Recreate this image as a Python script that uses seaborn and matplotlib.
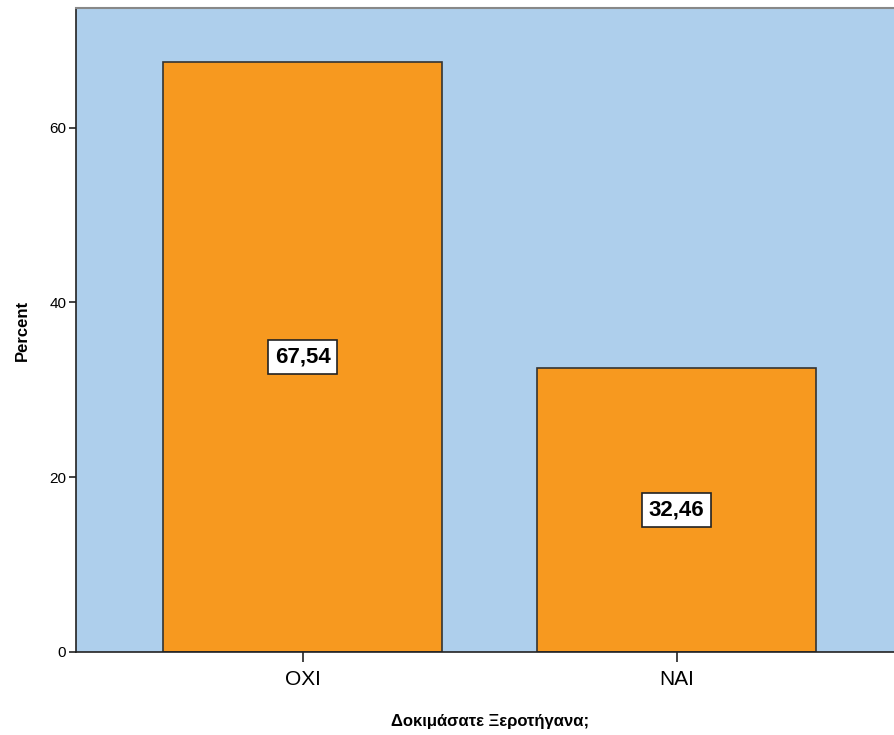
import matplotlib
matplotlib.use("Agg")
import matplotlib.pyplot as plt
import seaborn as sns
import pandas as pd

# Survey answers and their share of respondents (%)
answers = ["OXI", "NAI"]
percent = [67.54, 32.46]
y_ticks = [0, 20, 40, 60]

df = pd.DataFrame({"answer": answers, "percent": percent})

sns.set_style("white")
plt.rcParams["font.family"] = ["Liberation Sans", "DejaVu Sans"]
plt.rcParams["text.color"] = "black"
plt.rcParams["axes.labelcolor"] = "black"
plt.rcParams["xtick.color"] = "black"
plt.rcParams["ytick.color"] = "black"

fig = plt.figure(figsize=(8.94, 7.35), dpi=100)
ax = fig.add_axes([0.085, 0.113, 0.927, 0.876])
ax.set_facecolor("#AECFEC")

sns.barplot(data=df, x="answer", y="percent", color="#F7991F", saturation=1,
            width=0.746, edgecolor="#333333", linewidth=1.2, ax=ax)

ax.set_xlim(-0.607, 1.61)
ax.set_ylim(0, 73.7)
ax.set_yticks(y_ticks)
ax.set_yticklabels([str(t) for t in y_ticks])

# value boxes at half bar height
for bar, v in zip(ax.patches, percent):
    ax.text(bar.get_x() + bar.get_width() / 2, bar.get_height() / 2,
            f"{v:.2f}".replace(".", ","), ha="center", va="center",
            fontsize=16, fontweight="bold", color="black",
            bbox=dict(boxstyle="square,pad=0.3", facecolor="white",
                      edgecolor="#222222", linewidth=1.2))

ax.set_xlabel("Δοκιμάσατε Ξεροτήγανα;", fontsize=12, fontweight="bold", labelpad=18)
ax.set_ylabel("Percent", fontsize=12, fontweight="bold", labelpad=14)

ax.tick_params(axis="y", which="major", left=True, length=5, width=1.2,
               color="#222222", labelsize=11, pad=2)
ax.tick_params(axis="x", which="major", bottom=True, length=7, width=1.2,
               color="#222222", labelsize=15, pad=6)

for side in ["left", "bottom"]:
    ax.spines[side].set_color("#222222")
    ax.spines[side].set_linewidth(1.2)
ax.spines["top"].set_color("#888888")
ax.spines["top"].set_linewidth(1.5)
ax.spines["right"].set_visible(False)

fig.savefig("out.png", dpi=100)
